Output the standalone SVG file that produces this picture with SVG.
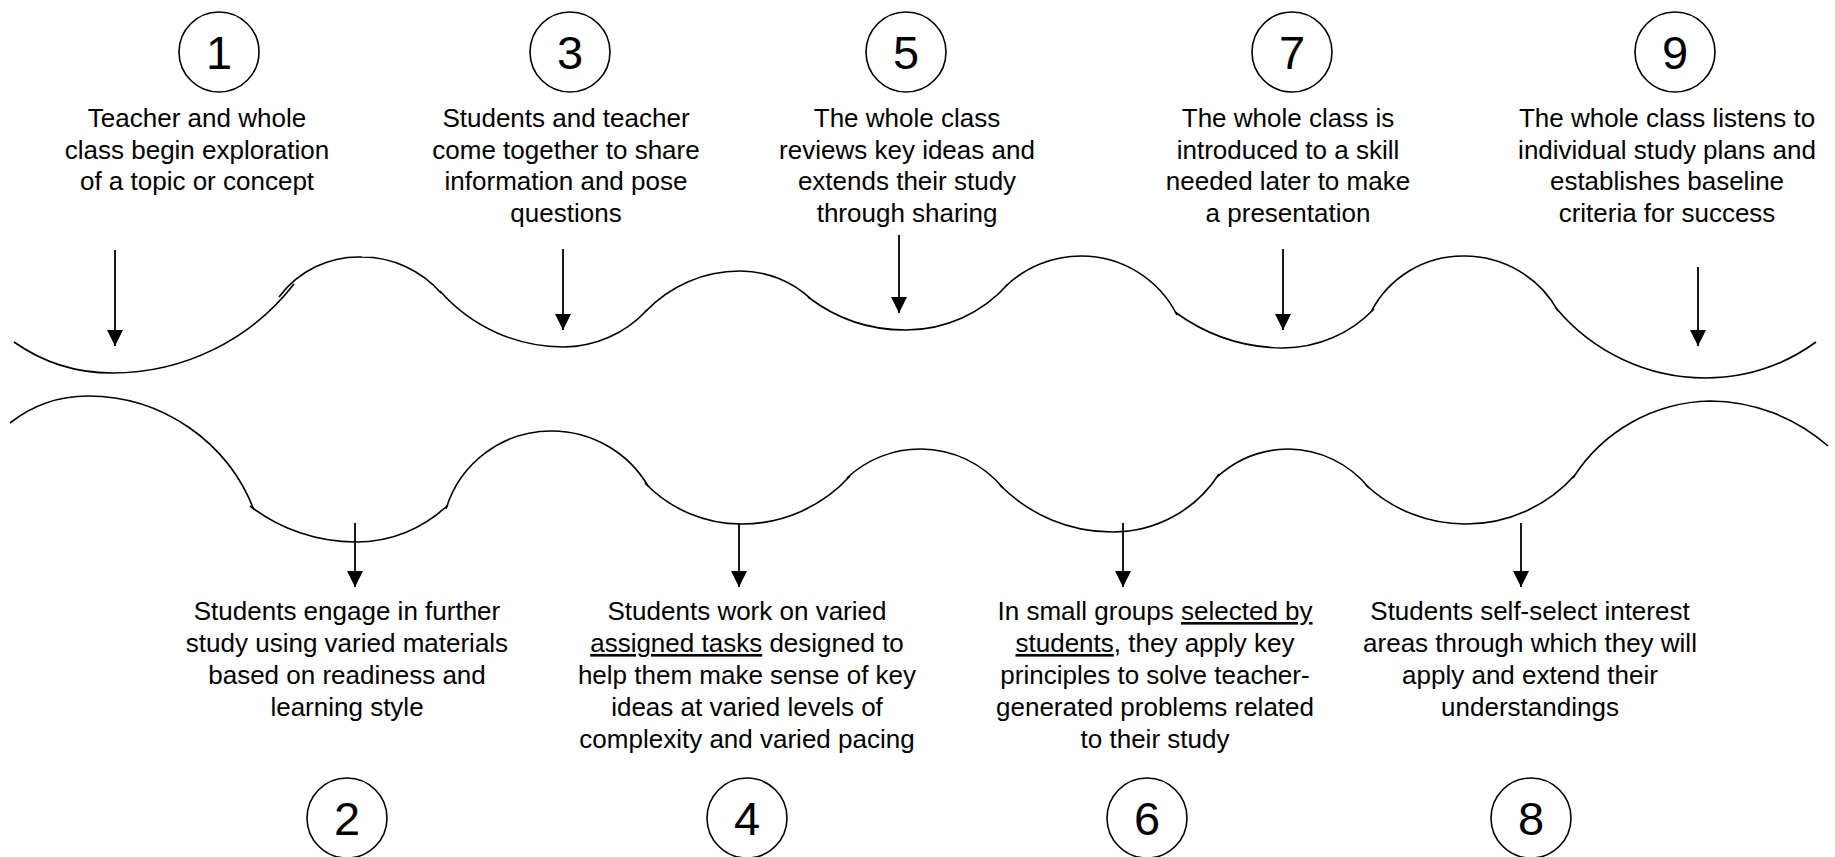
<svg xmlns="http://www.w3.org/2000/svg" width="1835" height="857" viewBox="0 0 1835 857">
<defs>
<marker id="ah" markerUnits="userSpaceOnUse" markerWidth="16" markerHeight="16" refX="16" refY="8" orient="auto">
<path d="M0,0 L16,8 L0,16 z" fill="#000"/>
</marker>
<style>
.t{font-family:"Liberation Sans",Arial,sans-serif;font-size:26px;fill:#000;text-anchor:middle}
.n{font-family:"Liberation Sans",Arial,sans-serif;font-size:47px;fill:#000;text-anchor:middle}
.c{fill:#fff;stroke:#000;stroke-width:1.6}
.w{fill:none;stroke:#000;stroke-width:1.6}
.a{stroke:#000;stroke-width:1.8;marker-end:url(#ah)}
.u{text-decoration:underline}
</style>
</defs>
<rect width="1835" height="857" fill="#fff"/>
<g id="connectors">
<g id="wave-top">
<path class="w" d="M14,342 A170,170 0 0 0 112,373 A230,230 0 0 0 294,284"/>
<path class="w" d="M279,297 A99,99 0 0 1 362,257 A105,105 0 0 1 441,293"/>
<path class="w" d="M440,291 A165,165 0 0 0 563,347 A114,114 0 0 0 647,310"/>
<path class="w" d="M645,312 A130,130 0 0 1 740,271 A104,104 0 0 1 811,299"/>
<path class="w" d="M808,297 A160,160 0 0 0 906,330 A136,136 0 0 0 1008,284"/>
<path class="w" d="M1006,286 A109,109 0 0 1 1081,256 A107,107 0 0 1 1177,315"/>
<path class="w" d="M1175,312 A185,185 0 0 0 1283,348 A126,126 0 0 0 1374,309"/>
<path class="w" d="M1371,312 A103,103 0 0 1 1464,256 A107,107 0 0 1 1558,311"/>
<path class="w" d="M1556,308 A195,195 0 0 0 1705,378 A189,189 0 0 0 1816,342"/>
</g>
<g id="wave-bottom">
<path class="w" d="M10,423 A126,126 0 0 1 88,396 A178,178 0 0 1 254,510"/>
<path class="w" d="M250,506 A173,173 0 0 0 356,542 A133,133 0 0 0 448,505"/>
<path class="w" d="M446,509 A110,110 0 0 1 552,431 A112,112 0 0 1 648,486"/>
<path class="w" d="M645,483 A133,133 0 0 0 742,524 A146,146 0 0 0 850,476"/>
<path class="w" d="M847,478 A107,107 0 0 1 921,449 A107,107 0 0 1 1003,488"/>
<path class="w" d="M1000,485 A157,157 0 0 0 1113,532 A126,126 0 0 0 1219,474"/>
<path class="w" d="M1217,477 A108,108 0 0 1 1288,449 A105,105 0 0 1 1369,488"/>
<path class="w" d="M1366,485 A145,145 0 0 0 1466,524 A146,146 0 0 0 1575,475"/>
<path class="w" d="M1573,478 A166,166 0 0 1 1710,401 A180,180 0 0 1 1828,446"/>
</g>
<line class="a" x1="115" y1="250" x2="115" y2="346"/>
<line class="a" x1="563" y1="249" x2="563" y2="330"/>
<line class="a" x1="899" y1="235" x2="899" y2="313"/>
<line class="a" x1="1283" y1="249" x2="1283" y2="330"/>
<line class="a" x1="1698" y1="267" x2="1698" y2="346"/>
<line class="a" x1="355" y1="523" x2="355" y2="587"/>
<line class="a" x1="739" y1="523" x2="739" y2="587"/>
<line class="a" x1="1123" y1="523" x2="1123" y2="587"/>
<line class="a" x1="1521" y1="523" x2="1521" y2="587"/>
</g>
<g id="step1">
<circle class="c" cx="219" cy="52" r="40"/><text class="n" x="219" y="69">1</text>
<text class="t" x="197" y="127">Teacher and whole<tspan x="197" y="159">class begin exploration</tspan><tspan x="197" y="190">of a topic or concept</tspan></text>
</g>
<g id="step3">
<circle class="c" cx="570" cy="52" r="40"/><text class="n" x="570" y="69">3</text>
<text class="t" x="566" y="127">Students and teacher<tspan x="566" y="159">come together to share</tspan><tspan x="566" y="190">information and pose</tspan><tspan x="566" y="222">questions</tspan></text>
</g>
<g id="step5">
<circle class="c" cx="906" cy="52" r="40"/><text class="n" x="906" y="69">5</text>
<text class="t" x="907" y="127">The whole class<tspan x="907" y="159">reviews key ideas and</tspan><tspan x="907" y="190">extends their study</tspan><tspan x="907" y="222">through sharing</tspan></text>
</g>
<g id="step7">
<circle class="c" cx="1292" cy="52" r="40"/><text class="n" x="1292" y="69">7</text>
<text class="t" x="1288" y="127">The whole class is<tspan x="1288" y="159">introduced to a skill</tspan><tspan x="1288" y="190">needed later to make</tspan><tspan x="1288" y="222">a presentation</tspan></text>
</g>
<g id="step9">
<circle class="c" cx="1675" cy="52" r="40"/><text class="n" x="1675" y="69">9</text>
<text class="t" x="1667" y="127">The whole class listens to<tspan x="1667" y="159">individual study plans and</tspan><tspan x="1667" y="190">establishes baseline</tspan><tspan x="1667" y="222">criteria for success</tspan></text>
</g>
<g id="step2">
<text class="t" x="347" y="620">Students engage in further<tspan x="347" y="652">study using varied materials</tspan><tspan x="347" y="684">based on readiness and</tspan><tspan x="347" y="716">learning style</tspan></text>
<circle class="c" cx="347" cy="818" r="40"/><text class="n" x="347" y="835">2</text>
</g>
<g id="step4">
<text class="t" x="747" y="620">Students work on varied<tspan x="747" y="652"><tspan class="u">assigned tasks</tspan> designed to</tspan><tspan x="747" y="684">help them make sense of key</tspan><tspan x="747" y="716">ideas at varied levels of</tspan><tspan x="747" y="748">complexity and varied pacing</tspan></text>
<circle class="c" cx="747" cy="818" r="40"/><text class="n" x="747" y="835">4</text>
</g>
<g id="step6">
<text class="t" x="1155" y="620">In small groups <tspan class="u">selected by</tspan><tspan x="1155" y="652"><tspan class="u">students</tspan>, they apply key</tspan><tspan x="1155" y="684">principles to solve teacher-</tspan><tspan x="1155" y="716">generated problems related</tspan><tspan x="1155" y="748">to their study</tspan></text>
<circle class="c" cx="1147" cy="818" r="40"/><text class="n" x="1147" y="835">6</text>
</g>
<g id="step8">
<text class="t" x="1530" y="620">Students self-select interest<tspan x="1530" y="652">areas through which they will</tspan><tspan x="1530" y="684">apply and extend their</tspan><tspan x="1530" y="716">understandings</tspan></text>
<circle class="c" cx="1531" cy="818" r="40"/><text class="n" x="1531" y="835">8</text>
</g>
</svg>
